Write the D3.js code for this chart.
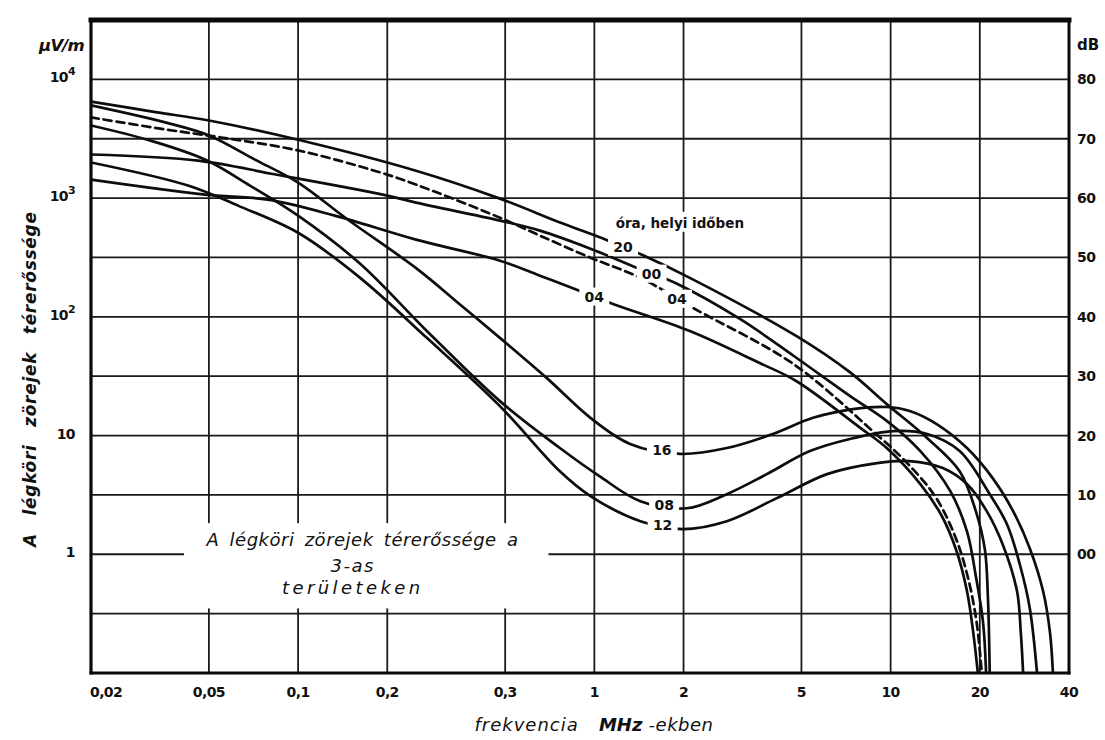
<!DOCTYPE html>
<html>
<head>
<meta charset="utf-8">
<script src="https://cdn.jsdelivr.net/npm/d3@7"></script>
<style>
  body { margin: 0; background: #fff; }
  svg { display: block; }
  text { font-family: "DejaVu Sans", "Liberation Sans", sans-serif; fill: #111; }
</style>
</head>
<body>
<svg id="chart" width="1105" height="740"></svg>
<script>
// ---- data: frequency in MHz, field strength in µV/m ----
const xTicks = [0.02, 0.05, 0.1, 0.2, 0.5, 1, 2, 5, 10, 20, 40];
const xTickLabels = ["0,02", "0,05", "0,1", "0,2", "0,3", "1", "2", "5", "10", "20", "40"];

const yTicks = [1e4, 1e3, 1e2, 10, 1];
const yTickBase = ["10", "10", "10", "10", "1"];
const yTickExp = ["4", "3", "2", "", ""];

const dbTicks = [80, 70, 60, 50, 40, 30, 20, 10, 0];
const dbTickLabels = ["80", "70", "60", "50", "40", "30", "20", "10", "00"];

const series20 = [[0.02,6500],[0.033,5300],[0.05,4500],[0.1,3100],[0.25,1700],[0.48,990],[0.77,620],[1.11,440],[1.46,330],[2.1,213],[4.8,69],[7.3,34],[9.7,18.4],[13.3,9.5],[17.1,5.0],[19.4,2.3],[20.8,1.1],[21.3,0.43],[21.6,0.1]];
const series00 = [[0.02,2330],[0.046,2070],[0.084,1580],[0.2,1050],[0.25,916],[0.48,646],[0.655,532],[0.97,375],[1.39,259],[1.9,190],[3.1,96],[4.7,47],[7.3,21.5],[9.7,13.3],[12.6,7.4],[15.9,3.4],[18.1,1.56],[19.4,0.65],[20.5,0.27],[21.0,0.1]];
const series04dashed = [[0.02,4780],[0.0356,3790],[0.055,3240],[0.1,2520],[0.19,1640],[0.25,1300],[0.48,684],[0.655,483],[0.97,315],[1.43,213],[2.15,119],[4.7,40],[8.7,10.9],[11.2,6.1],[14.1,3.1],[16.5,1.42],[18.2,0.65],[19.5,0.27],[20.3,0.1]];
const series04 = [[0.02,1430],[0.0485,1070],[0.079,970],[0.133,712],[0.25,447],[0.48,297],[0.655,222],[0.89,166],[1.15,129],[2.1,76],[3.6,41],[4.8,28.8],[7.9,11.6],[9.7,7.85],[12.6,3.9],[14.9,2.09],[16.7,1.06],[18.1,0.49],[19.0,0.22],[19.7,0.1]];
const series16 = [[0.02,6040],[0.0356,4340],[0.05,3370],[0.0715,2110],[0.1,1350],[0.147,660],[0.254,250],[0.352,127],[0.48,66.5],[0.69,30.6],[0.97,14.1],[1.32,8.5],[1.95,7.0],[2.8,7.85],[4.0,10.3],[5.47,14.1],[7.46,16.7],[9.72,17.4],[11.6,16.1],[14.3,12.5],[18.1,7.85],[22.1,4.38],[25.9,2.31],[29.5,1.12],[32.7,0.49],[34.5,0.22],[35.3,0.1]];
const series08 = [[0.02,4090],[0.0316,3060],[0.0485,2110],[0.0688,1275],[0.1,712],[0.162,280],[0.272,76],[0.48,19.5],[0.765,7.85],[1.04,4.55],[1.43,2.8],[2.05,2.44],[2.8,3.21],[3.82,4.73],[5.34,7.4],[7.46,9.5],[10.2,10.9],[13.3,10.3],[17.1,7.4],[21.6,3.21],[24.7,1.79],[27.3,0.82],[29.5,0.35],[31.2,0.1]];
const series12 = [[0.02,1995],[0.0425,1275],[0.0627,864],[0.1,511],[0.162,213],[0.272,66.5],[0.48,17.7],[0.765,5.0],[0.97,3.09],[1.43,1.9],[1.99,1.63],[2.8,1.9],[4.13,2.97],[6.1,4.73],[9.0,5.86],[11.6,6.1],[15.0,5.32],[18.1,3.9],[21.1,2.31],[23.9,1.21],[26.7,0.49],[27.5,0.22],[28.0,0.1]];

// hour label and the frequency at which it sits on its curve
const curves = [
  { name: "20", data: series20, dashed: false, labelAt: 1.25 },
  { name: "00", data: series00, dashed: false, labelAt: 1.56 },
  { name: "04", data: series04dashed, dashed: true, labelAt: 1.9 },
  { name: "04", data: series04, dashed: false, labelAt: 1.0 },
  { name: "16", data: series16, dashed: false, labelAt: 1.69 },
  { name: "08", data: series08, dashed: false, labelAt: 1.72 },
  { name: "12", data: series12, dashed: false, labelAt: 1.70 }
];

// ---- layout ----
const svg = d3.select("#chart");
const plot = { left: 91, right: 1069, top: 20, bottom: 673 };

const x = d3.scaleLog().domain([0.02, 40]).range([plot.left, plot.right]);
const y = d3.scaleLog().domain([0.1, Math.pow(10, 4.5)]).range([plot.bottom, plot.top]);

svg.append("rect").attr("width", 1105).attr("height", 740).attr("fill", "#fff");

svg.append("defs").append("clipPath").attr("id", "plotClip")
  .append("rect")
  .attr("x", plot.left).attr("y", plot.top)
  .attr("width", plot.right - plot.left).attr("height", plot.bottom - plot.top);

// grid: every 10 dB horizontally, each labelled frequency vertically
const gridColor = "#1a1a1a";
const hGrid = d3.range(-1, 9).map(k => Math.pow(10, k / 2));
const grid = svg.append("g").attr("stroke", gridColor).attr("stroke-width", 1.8);
grid.selectAll("line.h").data(hGrid).join("line")
  .attr("x1", plot.left).attr("x2", plot.right)
  .attr("y1", d => y(d)).attr("y2", d => y(d));
grid.selectAll("line.v").data(xTicks.slice(1, -1)).join("line")
  .attr("x1", d => x(d)).attr("x2", d => x(d))
  .attr("y1", plot.top).attr("y2", plot.bottom);

// caption block inside the plot, set on a white patch over the grid
const capX0 = x(0.0412), capX1 = x(0.70);
const capY0 = y(1.83), capY1 = y(0.35);
svg.append("rect").attr("x", capX0).attr("y", capY0)
  .attr("width", capX1 - capX0).attr("height", capY1 - capY0).attr("fill", "#fff");
const capCx = x(0.153);
const cap = svg.append("g").attr("font-style", "italic").attr("font-size", 18);
cap.append("text").attr("x", x(0.165)).attr("y", y(1) - 8).attr("text-anchor", "middle")
  .attr("letter-spacing", 0.5).attr("word-spacing", 4).text("A légköri zörejek térerőssége a");
cap.append("text").attr("x", capCx).attr("y", y(1) + 18).attr("text-anchor", "middle")
  .attr("letter-spacing", 1.5).text("3-as");
cap.append("text").attr("x", capCx).attr("y", y(1) + 40).attr("text-anchor", "middle")
  .attr("letter-spacing", 3.4).text("területeken");

// curves
const line = d3.line()
  .x(d => x(d[0])).y(d => y(d[1]))
  .curve(d3.curveCatmullRom.alpha(0.5));

const curveG = svg.append("g").attr("clip-path", "url(#plotClip)");
curveG.selectAll("path").data(curves).join("path")
  .attr("d", d => line(d.data))
  .attr("fill", "none")
  .attr("stroke", "#0d0d0d")
  .attr("stroke-width", 2.7)
  .attr("stroke-linecap", "round")
  .attr("stroke-dasharray", d => d.dashed ? "8,5" : null);

// value of a curve at a frequency (linear in log-log between points)
function valueAt(data, f) {
  for (let i = 0; i < data.length - 1; i++) {
    const [f0, v0] = data[i], [f1, v1] = data[i + 1];
    if (f >= f0 && f <= f1) {
      const t = (Math.log(f) - Math.log(f0)) / (Math.log(f1) - Math.log(f0));
      return Math.exp(Math.log(v0) + t * (Math.log(v1) - Math.log(v0)));
    }
  }
  return data[data.length - 1][1];
}

// hour labels break their curves
const labG = svg.append("g");
curves.forEach(c => {
  const px = x(c.labelAt), py = y(valueAt(c.data, c.labelAt));
  labG.append("rect").attr("x", px - 15).attr("y", py - 9).attr("width", 30).attr("height", 18)
    .attr("fill", "#fff");
  labG.append("text").attr("x", px).attr("y", py + 5).attr("text-anchor", "middle")
    .attr("font-size", 14).attr("font-weight", "bold").text(c.name);
});

// legend heading for the hour labels
const legX = x(1.18), legY = y(620);
svg.append("rect").attr("x", legX - 3).attr("y", legY - 11).attr("width", 158).attr("height", 20).attr("fill", "#fff");
svg.append("text").attr("x", legX).attr("y", legY + 5)
  .attr("font-size", 13.5).attr("font-weight", "bold").text("óra, helyi időben");

// frame
const frame = svg.append("g").attr("stroke", "#0a0a0a").attr("stroke-linecap", "square");
frame.append("line").attr("x1", plot.left).attr("x2", plot.right).attr("y1", plot.top).attr("y2", plot.top).attr("stroke-width", 5);
frame.append("line").attr("x1", plot.left).attr("x2", plot.right).attr("y1", plot.bottom).attr("y2", plot.bottom).attr("stroke-width", 3);
frame.append("line").attr("x1", plot.left).attr("x2", plot.left).attr("y1", plot.top).attr("y2", plot.bottom).attr("stroke-width", 3.2);
frame.append("line").attr("x1", plot.right).attr("x2", plot.right).attr("y1", plot.top).attr("y2", plot.bottom).attr("stroke-width", 3);

// x tick labels
svg.append("g").selectAll("text").data(xTicks).join("text")
  .attr("x", (d, i) => i === 0 ? x(d) - 1 : x(d))
  .attr("y", plot.bottom + 24)
  .attr("text-anchor", (d, i) => i === 0 ? "start" : "middle")
  .attr("font-size", 14).attr("font-weight", "bold").attr("letter-spacing", -0.6)
  .text((d, i) => xTickLabels[i]);

// left µV/m tick labels
const yl = svg.append("g").attr("font-weight", "bold").attr("font-size", 14);
yTicks.forEach((v, i) => {
  const t = yl.append("text").attr("x", 75).attr("y", y(v) + 3).attr("text-anchor", "end")
    .attr("letter-spacing", -0.6);
  t.append("tspan").text(yTickBase[i]);
  if (yTickExp[i]) t.append("tspan").attr("dy", -7).attr("font-size", 11).text(yTickExp[i]);
});

// right dB tick labels
svg.append("g").selectAll("text").data(dbTicks).join("text")
  .attr("x", 1077).attr("y", d => y(Math.pow(10, d / 20)) + 5)
  .attr("font-size", 14).attr("font-weight", "bold").attr("letter-spacing", -0.6)
  .text((d, i) => dbTickLabels[i]);

// units
svg.append("text").attr("x", 1077).attr("y", 50).attr("font-size", 15).attr("font-weight", "bold").text("dB");
svg.append("text").attr("x", 84).attr("y", 51).attr("text-anchor", "end")
  .attr("font-size", 16.5).attr("font-weight", "bold").attr("font-style", "italic")
  .attr("letter-spacing", -0.8).text("µV/m");

// axis titles
svg.append("text")
  .attr("transform", `translate(36, ${(y(1) + y(1e3)) / 2 + 3}) rotate(-90)`)
  .attr("text-anchor", "middle").attr("font-size", 17).attr("font-weight", "bold")
  .attr("font-style", "italic").attr("word-spacing", 11).attr("letter-spacing", 0.7)
  .text("A légköri zörejek térerőssége");

const xt = svg.append("text").attr("x", 594).attr("y", 731).attr("text-anchor", "middle")
  .attr("font-size", 18).attr("font-style", "italic").style("white-space", "pre");
xt.append("tspan").attr("letter-spacing", 1).text("frekvencia   ");
xt.append("tspan").attr("font-weight", "bold").text("MHz");
xt.append("tspan").attr("letter-spacing", 0.5).text(" -ekben");
</script>
</body>
</html>
